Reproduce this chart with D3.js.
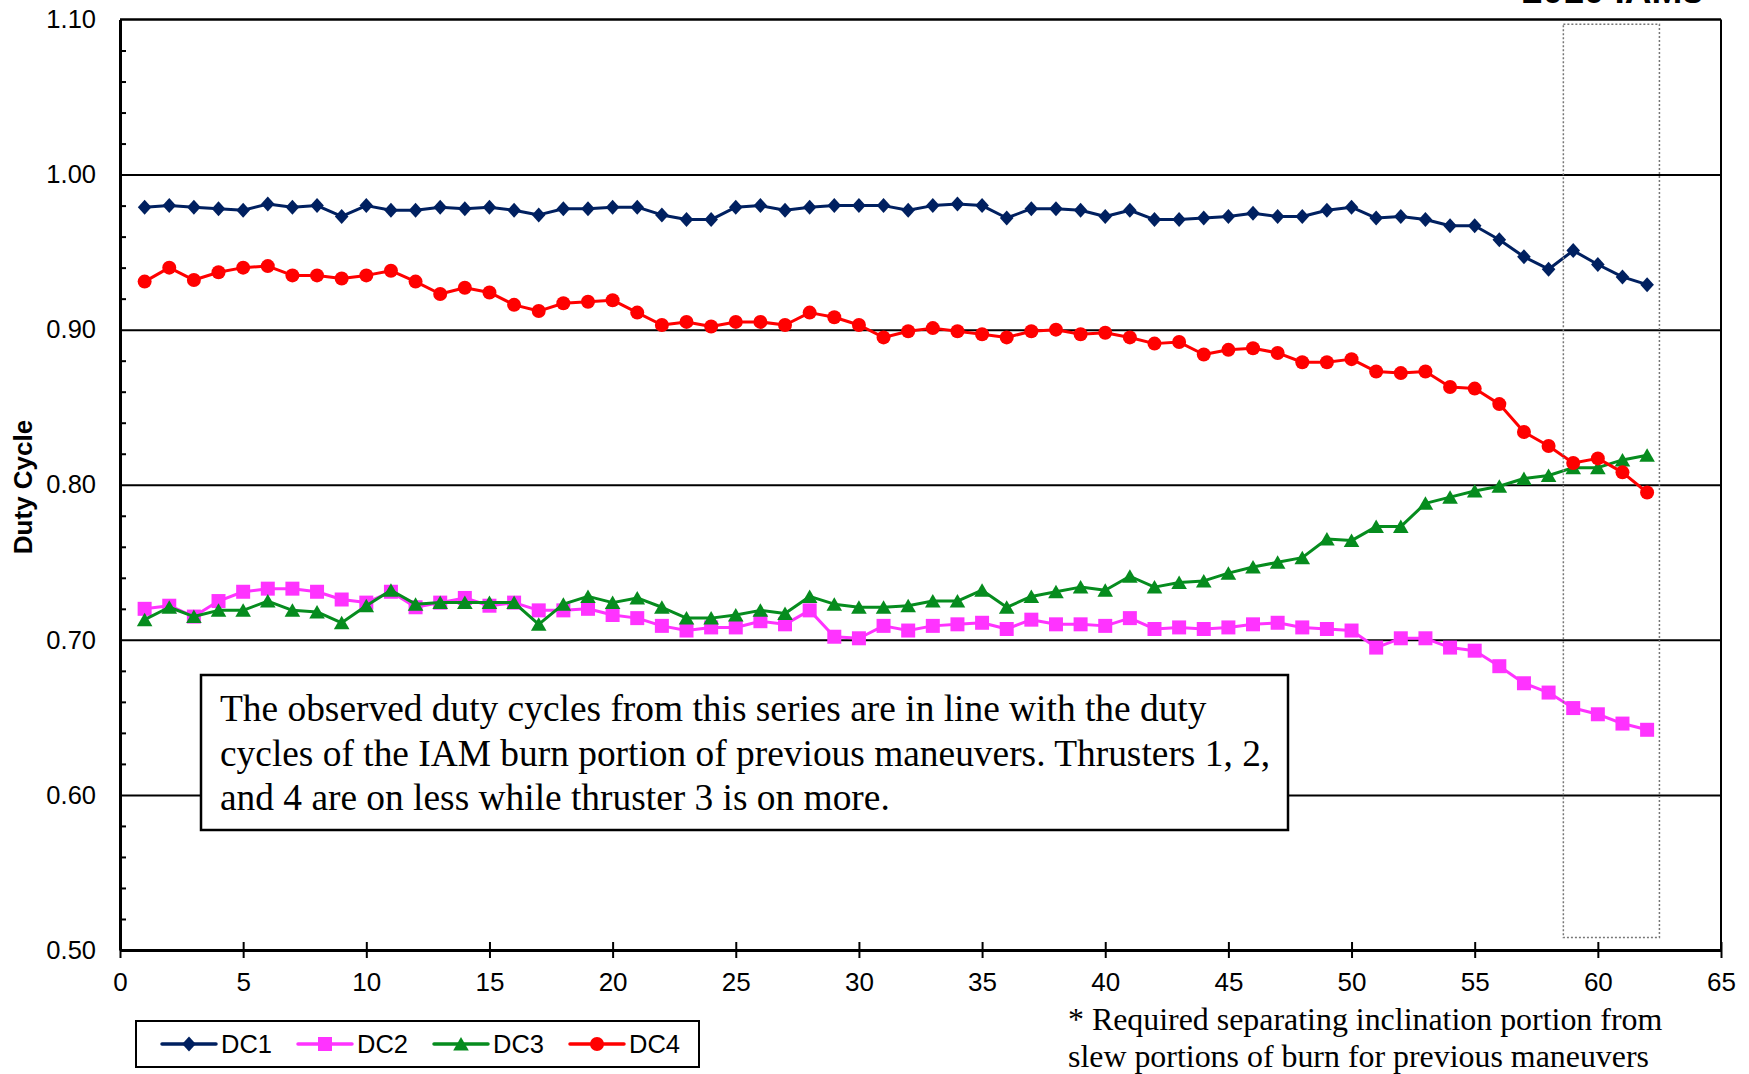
<!DOCTYPE html>
<html>
<head>
<meta charset="utf-8">
<script src="https://cdn.jsdelivr.net/npm/d3@7"></script>
<style>
  html, body { margin: 0; padding: 0; background: #fff; }
  svg { display: block; }
</style>
</head>
<body>
<svg id="chart" width="1749" height="1074"></svg>
<script>
// ---------------- DATA ----------------
const xValues = d3.range(1, 63);
const dc1 = [0.979,0.980,0.979,0.978,0.977,0.981,0.979,0.980,0.973,0.980,
             0.977,0.977,0.979,0.978,0.979,0.977,0.974,0.978,0.978,0.979,
             0.979,0.974,0.971,0.971,0.979,0.980,0.977,0.979,0.980,0.980,
             0.980,0.977,0.980,0.981,0.980,0.972,0.978,0.978,0.977,0.973,
             0.977,0.971,0.971,0.972,0.973,0.975,0.973,0.973,0.977,0.979,
             0.972,0.973,0.971,0.967,0.967,0.958,0.947,0.939,0.951,0.942,
             0.934,0.929];
const dc2 = [0.720,0.722,0.715,0.725,0.731,0.733,0.733,0.731,0.726,0.724,
             0.731,0.721,0.724,0.727,0.722,0.724,0.719,0.719,0.720,0.716,
             0.714,0.709,0.706,0.708,0.708,0.712,0.710,0.719,0.702,0.701,
             0.709,0.706,0.709,0.710,0.711,0.707,0.713,0.710,0.710,0.709,
             0.714,0.707,0.708,0.707,0.708,0.710,0.711,0.708,0.707,0.706,
             0.695,0.701,0.701,0.695,0.693,0.683,0.672,0.666,0.656,0.652,
             0.646,0.642];
const dc3 = [0.713,0.721,0.715,0.719,0.719,0.725,0.719,0.718,0.711,0.722,
             0.732,0.723,0.724,0.724,0.724,0.724,0.710,0.723,0.728,0.724,
             0.727,0.721,0.714,0.714,0.716,0.719,0.717,0.728,0.723,0.721,
             0.721,0.722,0.725,0.725,0.732,0.721,0.728,0.731,0.734,0.732,
             0.741,0.734,0.737,0.738,0.743,0.747,0.750,0.753,0.765,0.764,
             0.773,0.773,0.788,0.792,0.796,0.799,0.804,0.806,0.811,0.811,
             0.816,0.819];
const dc4 = [0.931,0.940,0.932,0.937,0.940,0.941,0.935,0.935,0.933,0.935,
             0.938,0.931,0.923,0.927,0.924,0.916,0.912,0.917,0.918,0.919,
             0.911,0.903,0.905,0.902,0.905,0.905,0.903,0.911,0.908,0.903,
             0.895,0.899,0.901,0.899,0.897,0.895,0.899,0.900,0.897,0.898,
             0.895,0.891,0.892,0.884,0.887,0.888,0.885,0.879,0.879,0.881,
             0.873,0.872,0.873,0.863,0.862,0.852,0.834,0.825,0.814,0.817,
             0.808,0.795];
const seriesNames = ["DC1", "DC2", "DC3", "DC4"];
const xTicks = [0,5,10,15,20,25,30,35,40,45,50,55,60,65];
const yTicks = [0.50,0.60,0.70,0.80,0.90,1.00,1.10];
const yGrid = [0.60,0.70,0.80,0.90,1.00];
const yMinor = d3.range(0.52, 1.1, 0.02).filter(v => Math.abs(Math.round(v*10) - v*10) > 0.05);
const titleText = "2010 IAMs";
const yLabel = "Duty Cycle";
const noteLines = [
  "The observed duty cycles from this series are in line with the duty",
  "cycles of the IAM burn portion of previous maneuvers. Thrusters 1, 2,",
  "and 4 are on less while thruster 3 is on more."
];
const footLines = [
  "* Required separating inclination portion from",
  "slew portions of burn for previous maneuvers"
];
const highlightRange = { x0: 58.6, x1: 62.5, y0: 0.508, y1: 1.097 };

// ---------------- STYLES ----------------
const colors = ["#002060", "#FF33FF", "#068C1E", "#FF0000"];
const shapes = ["diamond", "square", "triangle", "circle"];
const sans = "'Liberation Sans', Arial, sans-serif";
const serif = "'Liberation Serif', 'Times New Roman', serif";

const svg = d3.select("#chart");
const L = 120, R = 1721, T = 19.5, B = 950;
const x = d3.scaleLinear().domain([0, 65]).range([L, R]);
const y = d3.scaleLinear().domain([0.5, 1.1]).range([B, T]);

// grid lines
svg.append("g")
  .attr("transform", `translate(${L},0)`)
  .call(d3.axisLeft(y).tickValues(yGrid).tickSize(-(R - L)).tickFormat(""))
  .call(g => g.select(".domain").remove())
  .call(g => g.selectAll("line").attr("stroke", "#000").attr("stroke-width", 2));

// frame top and right
svg.append("line").attr("x1", L).attr("x2", R).attr("y1", T).attr("y2", T)
  .attr("stroke", "#000").attr("stroke-width", 2.5);
svg.append("line").attr("x1", R).attr("x2", R).attr("y1", T).attr("y2", B)
  .attr("stroke", "#000").attr("stroke-width", 2);

// minor y ticks (inward)
svg.append("g")
  .attr("transform", `translate(${L},0)`)
  .call(d3.axisRight(y).tickValues(yMinor).tickSize(6).tickFormat(""))
  .call(g => g.select(".domain").remove())
  .call(g => g.selectAll("line").attr("stroke", "#000").attr("stroke-width", 2));

// y axis
svg.append("g")
  .attr("transform", `translate(${L},0)`)
  .call(d3.axisLeft(y).tickValues(yTicks).tickFormat(d3.format(".2f")).tickSize(0).tickPadding(24))
  .call(g => g.select(".domain").attr("stroke", "#000").attr("stroke-width", 3))
  .call(g => g.selectAll("text").attr("font-family", sans).attr("font-size", 25.5).attr("fill", "#000"));

// x axis
svg.append("g")
  .attr("transform", `translate(0,${B})`)
  .call(d3.axisBottom(x).tickValues(xTicks).tickSize(7).tickSizeOuter(0))
  .call(g => g.select(".domain").attr("stroke", "#000").attr("stroke-width", 3))
  .call(g => g.selectAll(".tick line").attr("y1", -8).attr("y2", 8).attr("stroke", "#000").attr("stroke-width", 2))
  .call(g => g.selectAll("text").attr("y", 41).attr("dy", 0)
      .attr("font-family", sans).attr("font-size", 26).attr("fill", "#000"));

// y label
svg.append("text")
  .attr("transform", `translate(32,487) rotate(-90)`)
  .attr("text-anchor", "middle")
  .attr("font-family", sans).attr("font-size", 26).attr("font-weight", "bold")
  .text(yLabel);

// title (cut at top)
svg.append("text")
  .attr("x", 1703).attr("y", 3)
  .attr("text-anchor", "end")
  .attr("font-family", sans).attr("font-size", 37).attr("font-weight", "bold")
  .text(titleText);

// note box
const note = svg.append("g");
note.append("rect").attr("x", 201).attr("y", 675).attr("width", 1087).attr("height", 155)
  .attr("fill", "#fff").attr("stroke", "#000").attr("stroke-width", 2.5);
noteLines.forEach((t, i) => {
  note.append("text").attr("x", 220).attr("y", 721 + i * 44.5)
    .attr("font-family", serif).attr("font-size", 37.4).attr("fill", "#000").text(t);
});

// symbols
function symbolPath(shape) {
  switch (shape) {
    case "diamond": return "M0,-7.5L6.8,0L0,7.5L-6.8,0Z";
    case "square": return "M-7,-7H7V7H-7Z";
    case "triangle": return "M0,-7L7.8,6.5H-7.8Z";
    default: return d3.arc()({innerRadius: 0, outerRadius: 7, startAngle: 0, endAngle: 2 * Math.PI});
  }
}

const allSeries = [dc1, dc2, dc3, dc4];
const line = d3.line().x((d, i) => x(xValues[i])).y(d => y(d));
allSeries.forEach((vals, s) => {
  const g = svg.append("g");
  g.append("path").attr("d", line(vals)).attr("fill", "none")
    .attr("stroke", colors[s]).attr("stroke-width", 3).attr("stroke-linejoin", "round");
  g.selectAll("path.m").data(vals).join("path").attr("class", "m")
    .attr("transform", (d, i) => `translate(${x(xValues[i])},${y(d)})`)
    .attr("d", symbolPath(shapes[s])).attr("fill", colors[s]);
});

// highlight dotted rectangle
svg.append("rect")
  .attr("x", x(highlightRange.x0)).attr("y", y(highlightRange.y1))
  .attr("width", x(highlightRange.x1) - x(highlightRange.x0))
  .attr("height", y(highlightRange.y0) - y(highlightRange.y1))
  .attr("fill", "none").attr("stroke", "#777").attr("stroke-width", 1.5)
  .attr("stroke-dasharray", "2,2");

// legend
const leg = svg.append("g");
leg.append("rect").attr("x", 136).attr("y", 1021).attr("width", 563).attr("height", 46)
  .attr("fill", "#fff").attr("stroke", "#000").attr("stroke-width", 2);
const legX = [162, 298, 434, 570];
seriesNames.forEach((n, s) => {
  const lx = legX[s];
  leg.append("line").attr("x1", lx).attr("x2", lx + 54).attr("y1", 1044).attr("y2", 1044)
    .attr("stroke", colors[s]).attr("stroke-width", 3.5).attr("stroke-linecap", "round");
  leg.append("path").attr("transform", `translate(${lx + 27},1044)`)
    .attr("d", symbolPath(shapes[s])).attr("fill", colors[s]);
  leg.append("text").attr("x", lx + 59).attr("y", 1053)
    .attr("font-family", sans).attr("font-size", 25.5).attr("fill", "#000").text(n);
});

// footnote
footLines.forEach((t, i) => {
  svg.append("text").attr("x", 1068).attr("y", 1030 + i * 37)
    .attr("font-family", serif).attr("font-size", 31.9).attr("fill", "#000").text(t);
});
</script>
</body>
</html>
